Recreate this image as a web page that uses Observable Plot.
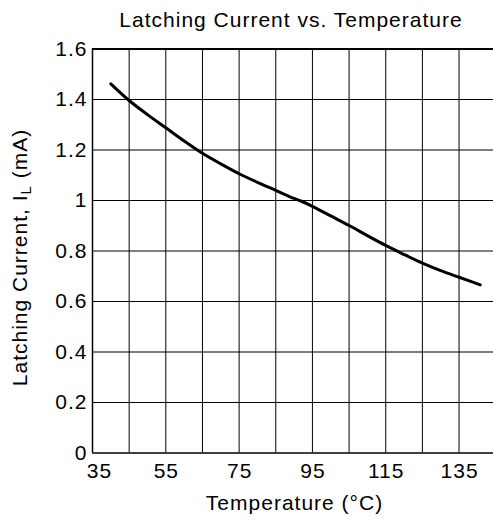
<!DOCTYPE html>
<html><head><meta charset="utf-8">
<script src="https://cdn.jsdelivr.net/npm/d3@7"></script>
<script src="https://cdn.jsdelivr.net/npm/@observablehq/plot@0.6"></script>
<style>
html,body{margin:0;padding:0;background:#fff;overflow:hidden}
svg text{letter-spacing:1px}
</style></head><body><div id="chart"></div>
<script>
const temperature = [40, 45, 50, 55, 60, 65, 70, 75, 80, 85, 90, 92, 95, 100, 105, 110, 115, 120, 125, 130, 135, 140.8];
const current = [1.462, 1.396, 1.340, 1.288, 1.236, 1.187, 1.145, 1.106, 1.072, 1.040, 1.008, 0.997, 0.977, 0.939, 0.901, 0.861, 0.822, 0.786, 0.752, 0.722, 0.696, 0.666];
const xTicks = [35, 55, 75, 95, 115, 135];
const xGrid = [45, 55, 65, 75, 85, 95, 105, 115, 125, 135, 145];
const yTicks = [0, 0.2, 0.4, 0.6, 0.8, 1, 1.2, 1.4, 1.6];
const title = "Latching Current vs. Temperature";
const xLabel = "Temperature (°C)";
const yLabel = "Latching Current, IL (mA)";

const data = temperature.map((t, i) => ({t, c: current[i]}));

const plot = Plot.plot({
  width: 493,
  height: 524,
  marginTop: 48.5,
  marginBottom: 71.5,
  marginLeft: 92,
  marginRight: 0,
  style: {fontFamily: "Liberation Sans, Arial, sans-serif", fontSize: "21px", background: "#fff", color: "#000"},
  x: {domain: [35, 144.4]},
  y: {domain: [0, 1.6]},
  marks: [
    Plot.gridX(xGrid, {stroke: "#000", strokeOpacity: 1, strokeWidth: 1}),
    Plot.gridY(yTicks.filter(d => d > 0 && d < 1.6), {stroke: "#000", strokeOpacity: 1, strokeWidth: 1}),
    Plot.ruleX([35], {stroke: "#000", strokeWidth: 1.5}),
    Plot.ruleY([0], {stroke: "#000", strokeWidth: 1.5}),
    Plot.ruleY([1.6], {stroke: "#000", strokeWidth: 2}),
    Plot.axisY({ticks: yTicks, tickSize: 0, tickPadding: 5, label: null, fontSize: 21, tickFormat: d => String(d)}),
    Plot.axisX({ticks: xTicks.slice(1), tickSize: 0, tickPadding: 10, dx: 0.5, label: null, fontSize: 21}),
    Plot.axisX({ticks: xTicks.slice(0, 1), tickSize: 0, tickPadding: 10, dx: 7, label: null, fontSize: 21}),
    Plot.line(data, {x: "t", y: "c", stroke: "#000", strokeWidth: 3, curve: "catmull-rom"}),
    Plot.text([title], {frameAnchor: "top", lineAnchor: "middle", textAnchor: "middle", dy: -29, dx: -2, fontSize: 21}),
    Plot.text([xLabel], {frameAnchor: "bottom", lineAnchor: "middle", textAnchor: "middle", dy: 50.5, dx: 1.5, fontSize: 21}),
    Plot.text([yLabel], {frameAnchor: "left", lineAnchor: "middle", textAnchor: "middle", rotate: -90, dx: -72, dy: 6.5, fontSize: 21})
  ]
});

d3.select(plot).selectAll("text").filter(function() { return this.textContent === yLabel; }).each(function() {
  const t = d3.select(this);
  t.text(null);
  t.append("tspan").text("Latching Current, I");
  t.append("tspan").attr("font-size", 15).attr("dy", 4).text("L");
  t.append("tspan").attr("dy", -4).text(" (mA)");
});

document.getElementById("chart").appendChild(plot);
</script>
</body></html>
